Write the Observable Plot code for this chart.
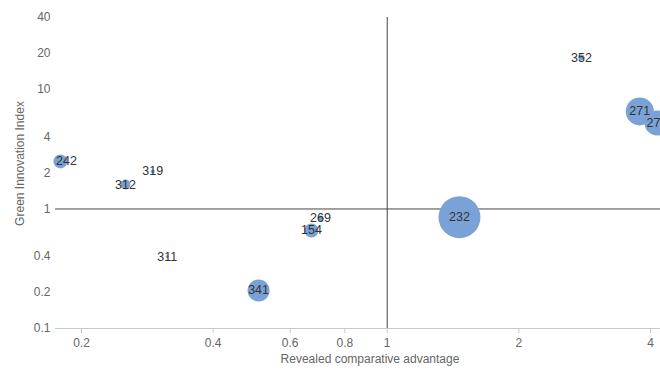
<!DOCTYPE html>
<html><head><meta charset="utf-8">
<script src="https://cdn.jsdelivr.net/npm/d3@7"></script>
<script src="https://cdn.jsdelivr.net/npm/@observablehq/plot@0.6"></script>
<style>
body{margin:0;background:#fff;}
svg{font-family:"Liberation Sans",Arial,sans-serif;}
</style></head>
<body><div id="chart"></div>
<script>
const codes = ["242","312","319","311","341","154","269","232","352","271","272"];
const rca   = [0.179,0.252,0.291,0.314,0.508,0.671,0.704,1.463,2.78,3.78,4.14];
const gii   = [2.50,1.60,2.06,0.40,0.208,0.661,0.833,0.854,18.5,6.55,5.24];
const size  = [49,25,4,2,121,49,9,441,9,196,156];
const xTicks = [0.2,0.4,0.6,0.8,1,2,4];
const yTicks = [0.1,0.2,0.4,1,2,4,10,20,40];
const xLabel = "Revealed comparative advantage";
const yLabel = "Green Innovation Index";

const xDomain = [0.1744, 4.216];
const data = codes.map((c,i)=>({code:c, x:rca[i], y:gii[i], s:size[i]}));
// keep data labels inside the left edge of the plot area (about 11px from the edge)
const minLabelX = xDomain[0] * Math.pow(10, 11 / 437.3);

const chart = Plot.plot({
  width:660, height:370,
  marginLeft:55, marginRight:0, marginTop:17, marginBottom:42,
  style:{fontSize:"12px", fontFamily:"'Liberation Sans', Arial, sans-serif", background:"#fff"},
  x:{type:"log", domain:xDomain},
  y:{type:"log", domain:[0.1,40]},
  r:{type:"sqrt", domain:[0,441], range:[0,21]},
  marks:[
    Plot.ruleY([0.1],{stroke:"#c8c8c8"}),
    Plot.axisX({ticks:xTicks, tickFormat:d=>String(d), tickSize:5, stroke:"#c8c8c8", color:"#666", tickPadding:5, label:null}),
    Plot.axisY({ticks:yTicks, tickFormat:d=>String(d), tickSize:0, tickPadding:5, color:"#666", label:null}),
    Plot.ruleX([1],{stroke:"#444", strokeWidth:1}),
    Plot.ruleY([1],{stroke:"#444", strokeWidth:1}),
    Plot.dot(data,{x:"x", y:"y", r:"s", fill:"#7aa2d6", stroke:"none"}),
    Plot.text(data,{x:d=>Math.max(d.x, minLabelX), y:"y", text:"code", fill:"#333", fontSize:12.5}),
    Plot.text([xLabel],{frameAnchor:"bottom", dy:34, dx:12, fill:"#666", fontSize:12}),
    Plot.text([yLabel],{frameAnchor:"left", textAnchor:"middle", rotate:-90, dx:-35, dy:-9.5, fill:"#666", fontSize:12})
  ]
});
document.getElementById("chart").appendChild(chart);
</script></body></html>
